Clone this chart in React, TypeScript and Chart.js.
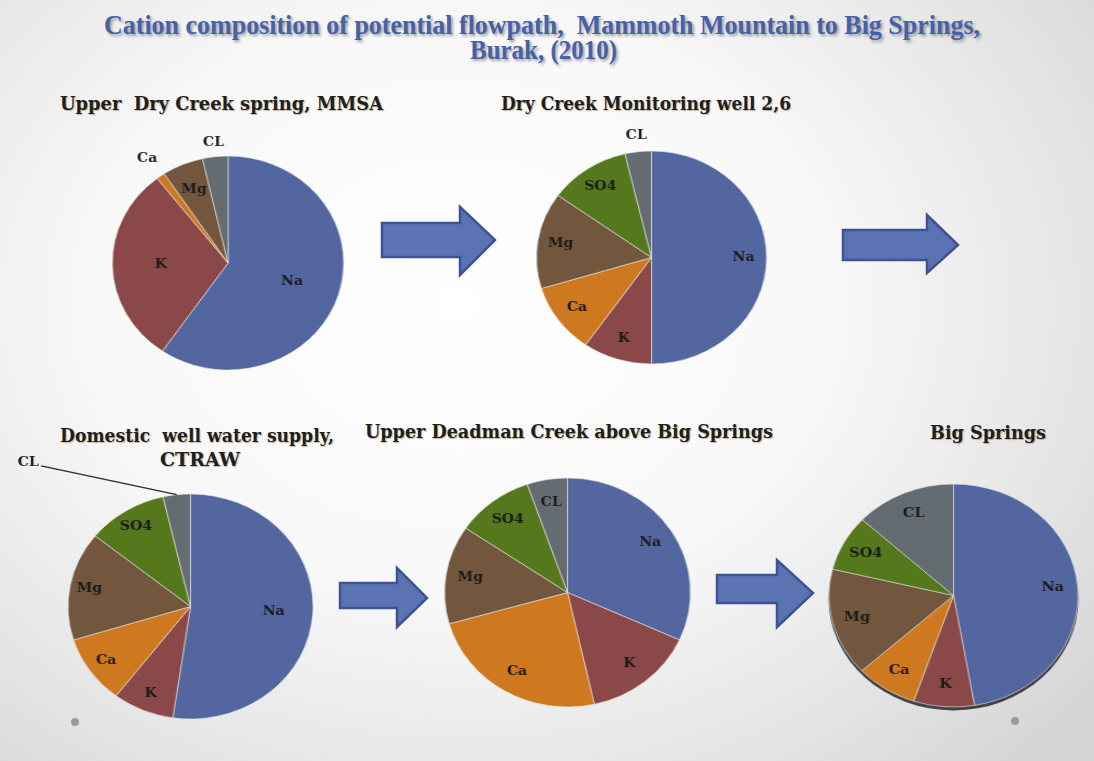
import React, { useEffect, useRef } from 'react';
import { Chart, registerables } from 'chart.js';

Chart.register(...registerables);

// ---------- data ----------
const categories = ['Na', 'K', 'Ca', 'Mg', 'SO4', 'CL'];
const upperDryCreekValues = [59.6, 29.9, 1.2, 5.75, 0, 3.55];
const dryCreekWellValues = [50, 9.7, 10.6, 14.6, 11.4, 3.7];
const domesticWellValues = [52.3, 8.1, 9.8, 15.6, 10.6, 3.6];
const upperDeadmanValues = [31.8, 14.7, 24.1, 13.9, 10.2, 5.3];
const bigSpringsValues = [47.3, 7.9, 8.0, 15.6, 8.1, 13.1];

const mainTitleLines = [
  'Cation composition of potential flowpath,  Mammoth Mountain to Big Springs,',
  'Burak, (2010)',
];
const pieTitles = [
  'Upper  Dry Creek spring, MMSA',
  'Dry Creek Monitoring well 2,6',
  'Domestic  well water supply,',
  'CTRAW',
  'Upper Deadman Creek above Big Springs',
  'Big Springs',
];

// ---------- styles ----------
const sliceColors = ['#5366a0', '#8b4848', '#ce7820', '#72573e', '#56781c', '#646c72'];
const LABEL_FONT = 'bold 13px "DejaVu Serif"';
const SUB_FONT = 'bold 18px "DejaVu Serif"';
const MAIN_FONT = 'bold 27px "Liberation Serif"';

let measureCtx: CanvasRenderingContext2D | null = null;
function measure(text: string, font: string) {
  if (!measureCtx) measureCtx = document.createElement('canvas').getContext('2d');
  measureCtx!.font = font;
  return measureCtx!.measureText(text).width;
}

function FitText({ text, left, right, cy, font, color, shadow }: any) {
  const w = measure(text, font) || 1;
  const s = (right - left) / w;
  return (
    <div
      style={{
        position: 'absolute',
        left,
        top: cy,
        font,
        color,
        lineHeight: 1,
        whiteSpace: 'pre',
        textShadow: shadow,
        transform: `translateY(-50%) scaleX(${s})`,
        transformOrigin: '0 50%',
      }}
    >
      {text}
    </div>
  );
}

function PieChart({ values, cx, cy, rx, ry, pad, factor, overrides, rim }: any) {
  const ref = useRef<HTMLCanvasElement>(null);
  const size = Math.round(2 * (ry + pad));
  useEffect(() => {
    const labelPlugin = {
      id: 'sliceLabels',
      beforeDatasetsDraw(chart: any) {
        if (!rim) return;
        const arc = chart.getDatasetMeta(0).data[0];
        const ctx = chart.ctx;
        ctx.save();
        ctx.beginPath();
        ctx.arc(arc.x, arc.y + 3, arc.outerRadius + 0.5, 0, Math.PI * 2);
        ctx.fillStyle = 'rgba(40,40,45,0.85)';
        ctx.fill();
        ctx.restore();
      },
      afterDatasetsDraw(chart: any) {
        const meta = chart.getDatasetMeta(0);
        const ctx = chart.ctx;
        ctx.save();
        ctx.font = LABEL_FONT;
        ctx.fillStyle = '#1b1b1b';
        ctx.textAlign = 'center';
        ctx.textBaseline = 'middle';
        meta.data.forEach((el: any, i: number) => {
          if (!values[i]) return;
          const { x, y, startAngle, endAngle, outerRadius } = el.getProps(
            ['x', 'y', 'startAngle', 'endAngle', 'outerRadius'],
            true
          );
          const mid = (startAngle + endAngle) / 2;
          const ov = (overrides && overrides[categories[i]]) || {};
          if (ov.leader) {
            const sx = x + Math.cos(mid) * outerRadius;
            const sy = y + Math.sin(mid) * outerRadius;
            const ex = x + ov.leader[0] * outerRadius;
            const ey = y + ov.leader[1] * outerRadius;
            ctx.beginPath();
            ctx.moveTo(sx, sy);
            ctx.lineTo(ex, ey);
            ctx.strokeStyle = '#2a2a2a';
            ctx.lineWidth = 1.3;
            ctx.stroke();
            ctx.textAlign = 'right';
            ctx.fillText(categories[i], ex - 2, ey - 3);
            ctx.textAlign = 'center';
            return;
          }
          const f = ov.r ?? factor;
          const lx = x + Math.cos(mid) * outerRadius * f;
          const ly = y + Math.sin(mid) * outerRadius * f;
          ctx.fillText(categories[i], lx, ly);
        });
        ctx.restore();
      },
    };
    const chart = new Chart(ref.current as HTMLCanvasElement, {
      type: 'pie',
      data: {
        labels: categories,
        datasets: [
          {
            data: values,
            backgroundColor: sliceColors,
            borderColor: 'rgba(230,230,230,0.6)',
            borderWidth: 1,
            hoverOffset: 0,
          },
        ],
      },
      options: {
        responsive: false,
        animation: false,
        events: [],
        layout: { padding: pad - 0.5 },
        plugins: {
          legend: { display: false },
          tooltip: { enabled: false },
          title: { display: false },
        },
      },
      plugins: [labelPlugin],
    } as any);
    return () => chart.destroy();
  }, []);
  return (
    <canvas
      ref={ref}
      width={size}
      height={size}
      style={{
        position: 'absolute',
        left: cx - size / 2,
        top: cy - size / 2,
        width: size,
        height: size,
        transform: `scaleX(${rx / ry})`,
        transformOrigin: '50% 50%',
      }}
    />
  );
}

const arrows = [
  [[382, 223], [460, 223], [460, 207], [495, 240], [460, 275], [460, 257], [382, 257]],
  [[843, 230], [927, 230], [927, 215], [958, 245], [927, 273], [927, 260], [843, 260]],
  [[340, 583], [397, 583], [397, 568], [427, 598], [397, 627], [397, 608], [340, 608]],
  [[717, 575], [777, 575], [777, 560], [813, 593], [777, 627], [777, 603], [717, 603]],
];

export default function App() {
  const subColor = '#1f1f1f';
  const subShadow = '1px 1px 1px rgba(130,100,50,0.45)';
  return (
    <div
      style={{
        position: 'absolute',
        left: 0,
        top: 0,
        width: 1094,
        height: 761,
        overflow: 'hidden',
        background:
          'radial-gradient(ellipse 75% 85% at 42% 40%, #ffffff 0%, #f8f8f8 45%, #e4e4e4 78%, #d4d4d4 100%)',
      }}
    >
      <svg width={1094} height={761} style={{ position: 'absolute', left: 0, top: 0 }}>
        {arrows.map((pts, i) => (
          <polygon
            key={i}
            points={pts.map((p) => p.join(',')).join(' ')}
            fill="#5b73b3"
            stroke="#3e5391"
            strokeWidth={2.5}
            strokeLinejoin="miter"
          />
        ))}
        <circle cx={75} cy={722} r={4} fill="#9a9a9a" />
        <circle cx={1015} cy={721} r={4} fill="#9a9a9a" />
      </svg>

      <FitText text={mainTitleLines[0]} left={104} right={980} cy={25} font={MAIN_FONT}
        color="#4661a8" shadow="2px 2px 3px rgba(50,50,60,0.45)" />
      <FitText text={mainTitleLines[1]} left={470} right={617} cy={50} font={MAIN_FONT}
        color="#4661a8" shadow="2px 2px 3px rgba(50,50,60,0.45)" />

      <FitText text={pieTitles[0]} left={60} right={383} cy={104} font={SUB_FONT} color={subColor} shadow={subShadow} />
      <FitText text={pieTitles[1]} left={501} right={791} cy={104} font={SUB_FONT} color={subColor} shadow={subShadow} />
      <FitText text={pieTitles[2]} left={60} right={334} cy={436} font={SUB_FONT} color={subColor} shadow={subShadow} />
      <FitText text={pieTitles[3]} left={160} right={240} cy={460} font={SUB_FONT} color={subColor} shadow={subShadow} />
      <FitText text={pieTitles[4]} left={365} right={773} cy={432} font={SUB_FONT} color={subColor} shadow={subShadow} />
      <FitText text={pieTitles[5]} left={930} right={1046} cy={433} font={SUB_FONT} color={subColor} shadow={subShadow} />

      <PieChart values={upperDryCreekValues} cx={227.5} cy={263} rx={115.7} ry={107} pad={40}
        factor={0.58} overrides={{ Mg: { r: 0.75 }, Ca: { r: 1.2 }, CL: { r: 1.13 } }} />
      <PieChart values={dryCreekWellValues} cx={651.5} cy={257} rx={115.3} ry={106.7} pad={40}
        factor={0.8} overrides={{ CL: { r: 1.15 } }} />
      <PieChart values={domesticWellValues} cx={190.5} cy={606.5} rx={122.5} ry={112.5} pad={70}
        factor={0.84} overrides={{ Na: { r: 0.68 }, CL: { leader: [-1.22, -1.25] } }} />
      <PieChart values={upperDeadmanValues} cx={567} cy={592.5} rx={123} ry={114.5} pad={30}
        factor={0.8} overrides={{}} />
      <PieChart values={bigSpringsValues} cx={953.5} cy={595} rx={124.5} ry={111.5} pad={30}
        factor={0.8} overrides={{}} rim />
    </div>
  );
}
